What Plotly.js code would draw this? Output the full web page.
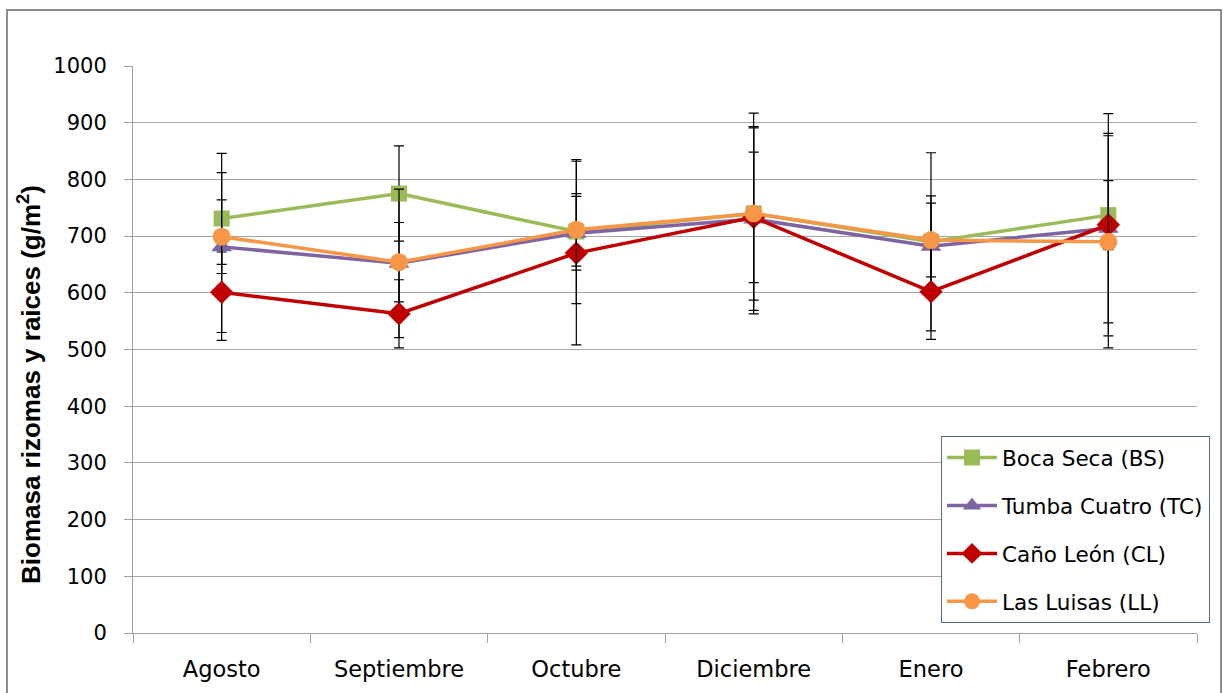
<!DOCTYPE html>
<html>
<head>
<meta charset="utf-8">
<script src="https://cdn.plot.ly/plotly-3.0.1.min.js"></script>
<style>
  html, body { margin: 0; padding: 0; background: #ffffff; }
  #chart { width: 1223px; height: 693px; }
</style>
</head>
<body>
<div id="chart"></div>
<script>
// Categories (months)
const months = ["Agosto", "Septiembre", "Octubre", "Diciembre", "Enero", "Febrero"];

// Series names
const nameBS = "Boca Seca (BS)";
const nameTC = "Tumba Cuatro (TC)";
const nameCL = "Caño León (CL)";
const nameLL = "Las Luisas (LL)";

// Mean biomass (g/m2)
const valuesBS = [731, 775, 708, 740, 690, 737];
const valuesTC = [681, 652, 705, 730, 682, 714];
const valuesCL = [601, 563, 670, 733, 602, 720];
const valuesLL = [699, 654, 711, 740, 693, 690];

// Error bar half-widths (g/m2)
const errBS = [81, 84, 127, 177, 157, 61];
const errTC = [165, 131, 65, 161, 89, 167];
const errCL = [71, 60, 162, 115, 84, 196];
const errLL = [65, 70, 64, 153, 65, 187];

// Y-axis ticks
const yTicks = [0, 100, 200, 300, 400, 500, 600, 700, 800, 900, 1000];

const FONT = "DejaVu Sans, Verdana, sans-serif";

function series(name, y, err, color, symbol, size, group) {
  return {
    type: "scatter",
    mode: "lines+markers",
    name: name,
    legendgroup: group,
    x: months,
    y: y,
    line: { color: color, width: 3.5 },
    marker: { color: color, symbol: symbol, size: size },
    error_y: {
      type: "data",
      array: err,
      visible: true,
      color: "#000000",
      thickness: 1.2,
      width: 5
    }
  };
}

const data = [
  series(nameBS, valuesBS, errBS, "#9bbb59", "square", 16, "g1"),
  series(nameTC, valuesTC, errTC, "#8064a2", "triangle-up", 18, "g2"),
  series(nameCL, valuesCL, errCL, "#c00000", "diamond", 18, "g3"),
  series(nameLL, valuesLL, errLL, "#f79646", "circle", 18, "g4")
];

const layout = {
  width: 1223,
  height: 693,
  paper_bgcolor: "#ffffff",
  plot_bgcolor: "#ffffff",
  margin: { l: 133, r: 26, t: 66, b: 60 },
  font: { family: FONT, size: 21, color: "#000000" },
  showlegend: true,
  legend: {
    x: 0.7594, y: 0.3474, xanchor: "left", yanchor: "top",
    bgcolor: "#ffffff",
    bordercolor: "#4f6e96",
    borderwidth: 1,
    font: { family: FONT, size: 21.5, color: "#000000" },
    tracegroupgap: 17,
    itemwidth: 50
  },
  xaxis: {
    type: "category",
    range: [-0.5, 5.5],
    autorange: false,
    showgrid: false,
    showline: true,
    linecolor: "#a0a0a0",
    linewidth: 1,
    ticks: "outside",
    tickson: "boundaries",
    ticklen: 9,
    tickcolor: "#a0a0a0",
    tickfont: { family: FONT, size: 22.5, color: "#000000" },
    ticklabelstandoff: 16,
    zeroline: false,
    fixedrange: true
  },
  yaxis: {
    range: [0, 1000],
    autorange: false,
    tickvals: yTicks,
    ticktext: yTicks.map(String),
    showgrid: true,
    gridcolor: "#a6a6a6",
    gridwidth: 1,
    showline: true,
    linecolor: "#a0a0a0",
    linewidth: 1,
    ticks: "outside",
    ticklen: 8,
    tickcolor: "#a0a0a0",
    tickfont: { family: FONT, size: 21, color: "#000000" },
    ticklabelstandoff: 13,
    zeroline: false,
    fixedrange: true
  },
  annotations: [
    {
      xref: "paper", yref: "paper",
      x: -0.0968, y: 0.4374,
      xanchor: "center", yanchor: "middle",
      textangle: -90,
      showarrow: false,
      text: "<b>Biomasa rizomas y raices (g/m<sup>2</sup>)</b>",
      font: { family: "Liberation Sans, Arial, sans-serif", size: 26, color: "#000000" }
    }
  ],
  shapes: [
    {
      type: "rect", xref: "paper", yref: "paper",
      x0: -0.1184, x1: 1.0226, y0: -0.2, y1: 1.0988,
      line: { color: "#8c8c8c", width: 2 },
      fillcolor: "rgba(0,0,0,0)",
      layer: "below"
    }
  ]
};

Plotly.newPlot("chart", data, layout, { displayModeBar: false, staticPlot: true });
</script>
</body>
</html>
